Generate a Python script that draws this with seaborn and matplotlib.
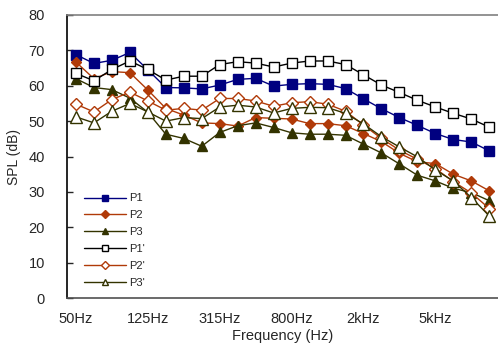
import matplotlib
matplotlib.use("Agg")
import matplotlib.pyplot as plt
import seaborn as sns
import pandas as pd

# 1/3-octave bands, 50 Hz .. 10 kHz
bands = ["50Hz", "63Hz", "80Hz", "100Hz", "125Hz", "160Hz", "200Hz", "250Hz",
         "315Hz", "400Hz", "500Hz", "630Hz", "800Hz", "1kHz", "1.25kHz", "1.6kHz",
         "2kHz", "2.5kHz", "3.15kHz", "4kHz", "5kHz", "6.3kHz", "8kHz", "10kHz"]
shown_labels = ["50Hz", "125Hz", "315Hz", "800Hz", "2kHz", "5kHz"]

p1 = [68.8, 66.3, 67.2, 69.4, 64.5, 59.5, 59.4, 59.1, 60.2, 61.8, 62.1, 59.9,
      60.4, 60.6, 60.4, 59.2, 56.3, 53.5, 51.0, 48.8, 46.5, 44.8, 44.1, 41.6]
p2 = [66.7, 62.0, 64.0, 63.7, 58.8, 53.6, 51.7, 49.5, 49.3, 48.6, 51.0, 50.8,
      50.6, 49.3, 49.3, 48.7, 46.5, 44.2, 40.9, 38.5, 38.0, 35.0, 33.1, 30.3]
p3 = [62.0, 59.5, 58.9, 56.5, 52.5, 46.3, 45.1, 42.9, 46.8, 48.7, 49.5, 48.2,
      46.7, 46.3, 46.3, 46.0, 43.5, 41.0, 37.9, 34.7, 33.1, 31.0, 29.8, 27.5]
p1p = [63.5, 61.4, 64.6, 67.0, 64.6, 61.6, 62.7, 62.7, 66.0, 66.8, 66.4, 65.3,
       66.4, 67.0, 67.0, 66.0, 63.1, 60.2, 58.1, 55.9, 54.0, 52.2, 50.6, 48.3]
p2p = [54.8, 52.6, 56.1, 58.2, 55.7, 53.1, 53.6, 53.1, 56.4, 56.4, 55.7, 54.2,
       55.2, 55.5, 54.8, 52.8, 48.9, 45.1, 41.8, 39.2, 36.6, 32.9, 29.7, 25.3]
p3p = [51.2, 49.5, 52.8, 55.0, 52.6, 50.0, 51.0, 50.7, 54.0, 54.5, 54.0, 52.3,
       53.6, 53.9, 53.8, 52.2, 49.2, 45.6, 42.7, 39.9, 36.2, 33.1, 28.4, 23.2]

sns.set_style("white")
plt.rcParams["font.family"] = ["Liberation Sans", "DejaVu Sans"]

NAVY, RUST, OLIVE = "#000080", "#B03A08", "#333300"

# (label, values, marker, colour, face, size)
series = [
    ("P1", p1, "s", NAVY, NAVY, 6.5),
    ("P2", p2, "D", RUST, RUST, 5),
    ("P3", p3, "^", OLIVE, OLIVE, 7),
    ("P1'", p1p, "s", "black", "white", 7.5),
    ("P2'", p2p, "D", RUST, "white", 6),
    ("P3'", p3p, "^", OLIVE, "white", 8.5),
]

fig = plt.figure(figsize=(4.98, 3.44), dpi=100)
ax = fig.add_axes([0.1345, 0.1337, 0.866, 0.8227])

x = list(range(len(bands)))
for label, vals, mk, col, face, ms in series:
    df = pd.DataFrame({"band": x, "spl": vals})
    sns.lineplot(data=df, x="band", y="spl", ax=ax, label=label, color=col,
                 marker=mk, markersize=ms, markerfacecolor=face,
                 markeredgecolor=col, markeredgewidth=1.0, linewidth=1.0)

ax.set_xlim(-0.5, len(bands) - 0.5)
ax.set_ylim(0, 80)
ax.set_yticks(range(0, 81, 10))
ax.set_xticks([bands.index(b) for b in shown_labels])
ax.set_xticklabels(shown_labels)
ax.tick_params(axis="x", length=0, pad=10, labelsize=10.5)
ax.tick_params(axis="y", direction="in", length=4, width=1, pad=16, labelsize=10.5,
               left=True)
ax.set_xlabel("Frequency (Hz)", fontsize=10.5, labelpad=2)
ax.set_ylabel("SPL (dB)", fontsize=10, labelpad=5)

for s in ["left", "bottom"]:
    ax.spines[s].set_color("black")
    ax.spines[s].set_linewidth(1.2)
ax.spines["top"].set_color("#808080")
ax.spines["top"].set_linewidth(1.2)
ax.spines["bottom"].set_color("#505050")
ax.spines["right"].set_visible(False)

leg = ax.legend(loc="upper left", bbox_to_anchor=(0.028, 0.385), frameon=False,
                fontsize=8, handlelength=3.8, labelspacing=0.62, handletextpad=0.3,
                borderaxespad=0)
for h in leg.legend_handles:
    h.set_markersize(4)

fig.savefig("out.png", dpi=100)
